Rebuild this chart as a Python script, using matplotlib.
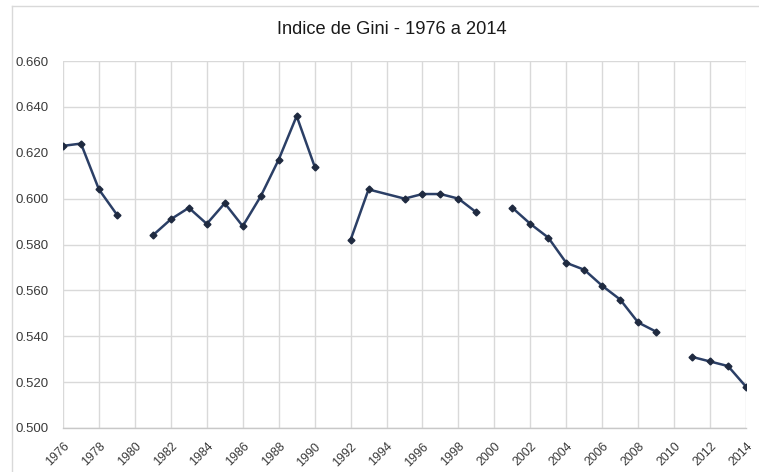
import numpy as np
import matplotlib
matplotlib.use("Agg")
import matplotlib.pyplot as plt
from matplotlib import font_manager as fm
from matplotlib.lines import Line2D
from matplotlib.transforms import ScaledTranslation

years = [1976, 1977, 1978, 1979, 1980, 1981, 1982, 1983, 1984, 1985, 1986, 1987, 1988, 1989,
         1990, 1991, 1992, 1993, 1995, 1996, 1997, 1998, 1999, 2000, 2001, 2002, 2003, 2004,
         2005, 2006, 2007, 2008, 2009, 2010, 2011, 2012, 2013, 2014]
gini = [0.623, 0.624, 0.604, 0.593, np.nan, 0.584, 0.591, 0.596, 0.589, 0.598, 0.588, 0.601,
        0.617, 0.636, 0.614, np.nan, 0.582, 0.604, 0.600, 0.602, 0.602, 0.600, 0.594, np.nan,
        0.596, 0.589, 0.583, 0.572, 0.569, 0.562, 0.556, 0.546, 0.542, np.nan, 0.531, 0.529,
        0.527, 0.518]
xticks = list(range(1976, 2015, 2))
yticks = [0.500, 0.520, 0.540, 0.560, 0.580, 0.600, 0.620, 0.640, 0.660]
title = "Indice de Gini - 1976 a 2014"

names = {f.name for f in fm.fontManager.ttflist}
if "Liberation Sans Narrow" in names:
    fam, scale = "Liberation Sans Narrow", 1.0
elif "Liberation Sans" in names:
    fam, scale = "Liberation Sans", 0.85
else:
    fam, scale = "DejaVu Sans", 0.8
plt.rcParams["font.family"] = [fam, "DejaVu Sans"]

fig = plt.figure(figsize=(7.59, 4.72), dpi=100)
ax = fig.add_axes([63/759, 1-428/472, (746-63)/759, (428-61)/472])

ax.plot(years, gini, color="#2B3F66", lw=1.8, marker="D", ms=3.5,
        mfc="#1F2A40", mec="#1F2A40")

ax.set_xlim(1976, 2014)
ax.set_ylim(0.5, 0.66)
ax.set_xticks(xticks)
ax.set_xticklabels([str(x) for x in xticks], rotation=45, ha="right",
                   rotation_mode="anchor", fontsize=10.5*scale, color="#3A3A3A")
off = ScaledTranslation(5/100, 0, fig.dpi_scale_trans)
for lab in ax.get_xticklabels():
    lab.set_transform(lab.get_transform() + off)
ax.set_yticks(yticks)
ax.set_yticklabels([f"{v:.3f}" for v in yticks], fontsize=11.2*scale, color="#3A3A3A")
ax.tick_params(axis="both", length=0)
ax.tick_params(axis="y", pad=10)
ax.tick_params(axis="x", pad=9)
ax.grid(True, color="#D9D9D9", lw=1)
ax.set_axisbelow(True)
for s in ["top", "right", "left"]:
    ax.spines[s].set_visible(False)
ax.spines["bottom"].set_color("#C8C8C8")
ax.spines["bottom"].set_linewidth(1)

fig.text(392/759, 1-30/472, title, ha="center", va="center", fontsize=15.5*scale,
         color="#1A1A1A")

fig.add_artist(Line2D([12/759, 1], [1-6/472, 1-6/472], color="#D9D9D9", lw=1,
                      transform=fig.transFigure))
fig.add_artist(Line2D([12/759, 12/759], [0, 1-6/472], color="#D9D9D9", lw=1,
                      transform=fig.transFigure))

fig.savefig("out.png", dpi=100, facecolor="white")
